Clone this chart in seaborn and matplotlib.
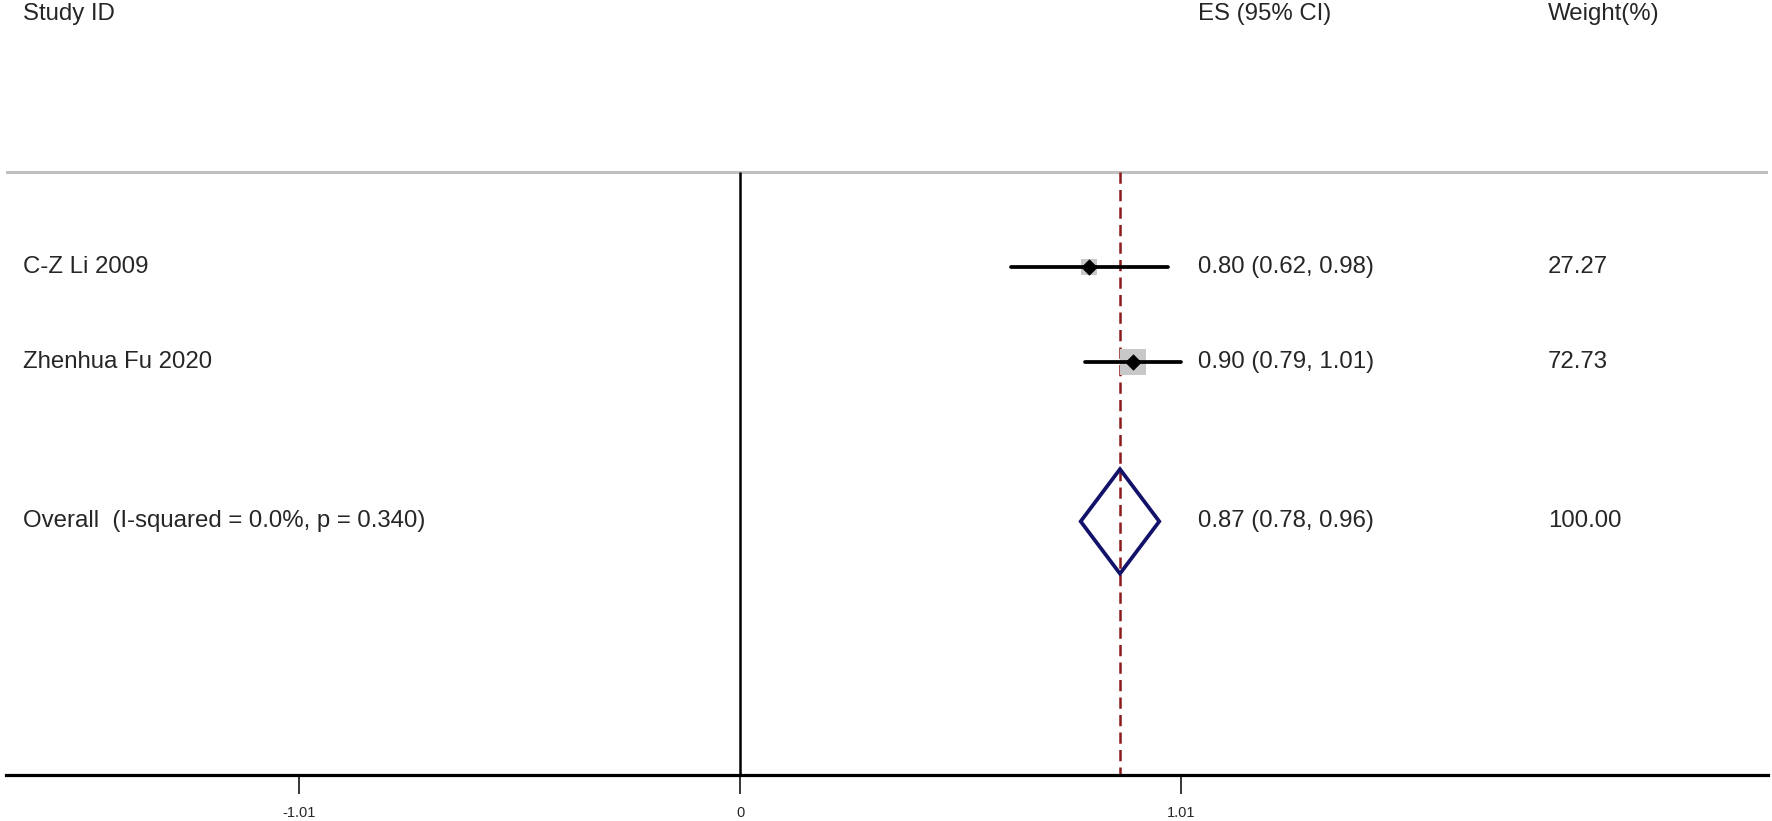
import matplotlib
matplotlib.use('Agg')
from matplotlib import pyplot as plt
from matplotlib.patches import Polygon
import matplotlib.transforms as mtrans
import seaborn as sns
import pandas as pd

# study data
studies = ["C-Z Li 2009", "Zhenhua Fu 2020"]
es = [0.80, 0.90]
ci_low = [0.62, 0.79]
ci_high = [0.98, 1.01]
weights = [27.27, 72.73]
rows = [1, 2]

# pooled estimate
overall_es = 0.87
overall_low = 0.78
overall_high = 0.96
overall_row = 3.68
i_squared = 0.0
p_value = 0.340

tick_vals = [-1.01, 0, 1.01]
tick_labels = ["-1.01", "0", "1.01"]

sns.set_style("white")
plt.rcParams['font.family'] = ['Liberation Sans', 'DejaVu Sans']

df = pd.DataFrame({'study': studies, 'es': es, 'lo': ci_low, 'hi': ci_high,
                   'weight': weights, 'row': rows})

fig = plt.figure(figsize=(17.72, 8.21), dpi=100)
ax = fig.add_axes([6 / 1772, 46 / 821, 1762 / 1772, 775 / 821])

# weight boxes (area proportional to weight)
sns.scatterplot(data=df, x='es', y='row', marker='s', s=df['weight'] * 4.9,
                color='#c8c8c8', edgecolor='none', ax=ax, zorder=2, legend=False)
ax.hlines(df['row'], df['lo'], df['hi'], color='black', lw=2.7, zorder=3,
          capstyle='round')
sns.scatterplot(data=df, x='es', y='row', marker='D', s=60, color='black',
                edgecolor='black', ax=ax, zorder=4, legend=False)

# overall diamond
dh = 0.55
diamond = Polygon([(overall_low, overall_row), (overall_es, overall_row - dh),
                   (overall_high, overall_row), (overall_es, overall_row + dh)],
                  closed=True, fill=False, edgecolor='#12126b', lw=2.7, zorder=3)
ax.add_patch(diamond)

# reference lines
ax.axhline(0, color='#c0c0c0', lw=2.2, zorder=1)
ax.vlines(0, 0, 7, color='black', lw=1.8, zorder=1)
ax.vlines(overall_es, 0, 7, color='#8b1a1a', lw=1.8, linestyle=(0, (4.5, 2.5)), zorder=1)

ax.set_xlim(-1.681, 2.354)
ax.set_ylim(6.35, -1.81)

for side in ['top', 'left', 'right']:
    ax.spines[side].set_visible(False)
ax.spines['bottom'].set_linewidth(2.3)
ax.spines['bottom'].set_color('black')
ax.set_xticks(tick_vals)
ax.set_xticklabels(tick_labels)
ax.tick_params(axis='x', direction='out', length=14, width=1.3, pad=8,
               labelsize=10.5, bottom=True)
ax.set_yticks([])
ax.set_xlabel('')
ax.set_ylabel('')

# text columns
trans = mtrans.blended_transform_factory(fig.transFigure, ax.transData)
col_study = 23 / 1772
col_es = 1198 / 1772
col_w = 1548 / 1772
fs = 17.3
header_y = -1.6
ax.text(col_study, header_y, "Study ID", transform=trans, fontsize=fs, va='baseline')
ax.text(col_es, header_y, "ES (95% CI)", transform=trans, fontsize=fs, va='baseline')
ax.text(col_w, header_y, "Weight(%)", transform=trans, fontsize=fs, va='baseline')

for _, r in df.iterrows():
    ax.text(col_study, r['row'], r['study'], transform=trans, fontsize=fs, va='center')
    ax.text(col_es, r['row'], f"{r['es']:.2f} ({r['lo']:.2f}, {r['hi']:.2f})",
            transform=trans, fontsize=fs, va='center')
    ax.text(col_w, r['row'], f"{r['weight']:.2f}", transform=trans, fontsize=fs, va='center')

ax.text(col_study, overall_row,
        f"Overall  (I-squared = {i_squared:.1f}%, p = {p_value:.3f})",
        transform=trans, fontsize=fs, va='center')
ax.text(col_es, overall_row, f"{overall_es:.2f} ({overall_low:.2f}, {overall_high:.2f})",
        transform=trans, fontsize=fs, va='center')
ax.text(col_w, overall_row, f"{sum(weights):.2f}", transform=trans, fontsize=fs, va='center')

fig.savefig('out.png', dpi=100)
